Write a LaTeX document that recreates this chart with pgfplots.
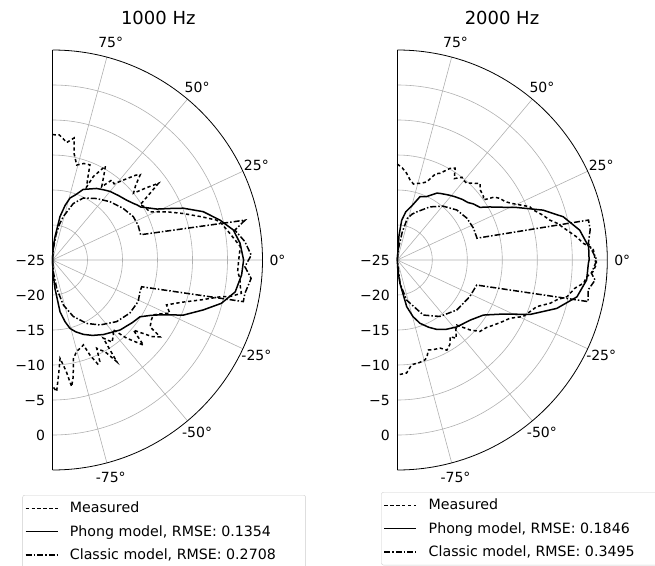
\documentclass[border=0pt]{standalone}
\usepackage{fontspec}
\setmainfont{DejaVu Sans}
\usepackage{pgfplots}
\pgfplotsset{compat=1.18}
\usepgfplotslibrary{polar}
\newcommand{\anglabels}{%
  \node[font=\fontsize{14}{16}\selectfont, inner sep=0pt] at (axis cs:75,7.14) {75°};
  \node[font=\fontsize{14}{16}\selectfont, inner sep=0pt] at (axis cs:50,7.14) {50°};
  \node[font=\fontsize{14}{16}\selectfont, inner sep=0pt] at (axis cs:25,7.14) {25°};
  \node[font=\fontsize{14}{16}\selectfont, inner sep=0pt] at (axis cs:0,7.14) {0°};
  \node[font=\fontsize{14}{16}\selectfont, inner sep=0pt] at (axis cs:-25,7.14) {-25°};
  \node[font=\fontsize{14}{16}\selectfont, inner sep=0pt] at (axis cs:-50,7.14) {-50°};
  \node[font=\fontsize{14}{16}\selectfont, inner sep=0pt] at (axis cs:-75,7.14) {-75°};
}
\pgfplotsset{
  myax/.style={
    scale only axis, width=420pt, height=420pt, clip=false,
    xmin=-90, xmax=90, ymin=-25, ymax=5,
    xtick={-75,-50,-25,0,25,50,75},
    xticklabels={,,,,,,},
    xticklabel style={text opacity=0},
    ytick={-25,-20,-15,-10,-5,0},
    yticklabels={−25,−20,−15,−10,−5,0},
    grid=major,
    major grid style={draw=black!31, line width=0.6pt},
    major tick length=0pt,
    axis line style={black, line width=0.8pt},
    tick label style={font=\fontsize{14}{16}\selectfont},
    yticklabel style={anchor=east, xshift=-4pt},
    title style={font=\fontsize{18}{21}\selectfont, anchor=base},
    legend cell align=left,
    legend style={anchor=north west, font=\fontsize{14.2}{16}\selectfont,
      draw=black!20, rounded corners=2pt, inner xsep=2.2pt, inner ysep=5pt,
      column sep=9pt, row sep=7pt, nodes={inner xsep=2.5pt}},
  },
  meas/.style={black, mark=none, line width=1.5pt, dash pattern=on 3.3pt off 2.6pt},
  phong/.style={black, mark=none, line width=1.5pt},
  classic/.style={black, mark=none, line width=1.5pt, dash pattern=on 6pt off 2pt on 1.5pt off 2pt},
}
\begin{document}
\begin{tikzpicture}
\useasboundingbox (0pt,0pt) rectangle (655pt,565pt);
% offsets relative to each axis origin
\coordinate (T1) at (105.8pt,221.2pt);
\coordinate (T2) at (104.7pt,221.2pt);
\coordinate (L1) at (-30pt,-235pt);
\coordinate (L2) at (-16pt,-232pt);
\begin{polaraxis}[myax, at={(52.5pt,305pt)}, anchor=origin,
  y coord trafo/.code={\pgfmathparse{#1+25}},
  y coord inv trafo/.code={\pgfmathparse{#1-25}},
  title={1000 Hz}, title style={at={(T1)}},
  legend style={at={(L1)}},
  legend image code/.code={\draw[#1] (0pt,0pt) -- (32pt,0pt);}]
\addplot[meas] coordinates {
(90,-7.1) (86.9,-7.1) (85,-7.6) (83.1,-8.1) (80,-7.3) (78.5,-9.5) (75.7,-11) (72,-10.5)
(68.5,-10.4) (67,-12) (65,-13.5) (63.9,-11.7) (60.6,-9.6) (58.5,-11) (56.1,-12.4) (53.5,-10.8)
(51,-11) (48,-9.5) (45.5,-8) (44.2,-7.5) (42,-9) (39.5,-10) (37.5,-8) (35.9,-6.3) (34,-8.5)
(32.2,-10.2) (30,-9.8) (26.4,-9.5) (22.9,-7.3) (19.6,-5.2) (16.4,-3) (13.7,-0.9) (12.2,-0.3)
(8.6,0.6) (4.1,1.9) (0,1.6) (-3.6,1.5) (-5.6,1.9) (-8.1,2.1) (-10,2.4) (-11.5,1) (-12.4,-0.5)
(-15,-3) (-18,-5.5) (-21.5,-7.5) (-24.4,-6.6) (-27,-8) (-28.6,-8.6) (-31,-8.5) (-34.4,-8.1)
(-35.5,-6.1) (-37.5,-7) (-40.9,-9.7) (-43.1,-7.2) (-46.5,-9.6) (-49,-11.8) (-51,-11.2)
(-54,-10.5) (-57,-11.7) (-57.7,-7.8) (-60.2,-9.9) (-62.2,-10.5) (-63.4,-10.9) (-65,-9)
(-66.5,-8.8) (-68.5,-10.4) (-70,-12.1) (-71.4,-11.9) (-75.2,-11.5) (-78,-10.6) (-80,-8)
(-81.4,-6.7) (-83,-9) (-85.6,-10.9) (-87,-8.5) (-88.2,-6.2) (-90,-7)
};
\addlegendentry{\makebox[231pt][l]{Measured}}
\addplot[phong] coordinates {
(90,-25) (87,-23.2) (83.9,-21.7) (80.2,-18.7) (77,-17) (74.2,-15.8) (70,-15.0) (66.5,-14.0)
(62,-13.5) (58.4,-13.0) (54,-12.6) (49.9,-12.2) (44,-11.8) (39,-11.4) (35,-10.9) (33.2,-10.6)
(31,-10.3) (29,-9.6) (26,-8.4) (23.7,-6.7) (21.6,-4.9) (17.8,-2.4) (13.4,-0.4) (9.4,1.2)
(5.1,1.9) (0,2.3) (-4.5,2.1) (-9.9,1.5) (-14.4,-0.1) (-18.3,-2.3) (-22.8,-4.7) (-25.1,-6.5)
(-27.5,-8) (-29.7,-9) (-33,-10.1) (-38,-10.5) (-46,-11.1) (-55.6,-12.1) (-62,-12.8)
(-67.5,-13.5) (-72,-14.2) (-75.6,-14.9) (-78.5,-16) (-81.7,-17.5) (-85,-20.9) (-87.5,-23) (-90,-25)
};
\addlegendentry{\makebox[231pt][l]{Phong model, RMSE: 0.1354}}
\addplot[classic] coordinates {
(90,-25) (86,-23.5) (82,-21.3) (79,-19.8) (76,-18.6) (69.8,-16.4) (63.5,-15.1) (54.4,-14.2)
(45.4,-13.3) (36.1,-12.5) (28.2,-11.9) (22.2,-11.8) (16,-11.9) (11.7,3.1) (9.3,1.4) (5.5,2.6)
(1.4,3.4) (-2,2.5) (-5.3,3.5) (-9.8,2.9) (-12.3,2.9) (-16.7,-11.7) (-19.9,-11.7) (-25.9,-11.4)
(-34.5,-11.6) (-43.9,-12.3) (-53.8,-13.5) (-61.6,-14.7) (-69.8,-16.4) (-76.5,-18.4)
(-81.6,-20.9) (-86,-23.3) (-90,-25)
};
\addlegendentry{\makebox[231pt][l]{Classic model, RMSE: 0.2708}}
\anglabels
\end{polaraxis}
\begin{polaraxis}[myax, at={(397.3pt,305pt)}, anchor=origin,
  y coord trafo/.code={\pgfmathparse{#1+25}},
  y coord inv trafo/.code={\pgfmathparse{#1-25}},
  title={2000 Hz}, title style={at={(T2)}},
  legend style={at={(L2)}},
  legend image code/.code={\draw[#1] (0pt,0pt) -- (32pt,0pt);}]
\addplot[meas] coordinates {
(90,-11.3) (87,-11.8) (84,-12.5) (81,-13.4) (78,-13.9) (75.8,-13.7) (73.5,-13.6) (71,-13.3)
(69.4,-13.1) (66,-11.5) (63.8,-11.2) (60.1,-9.9) (57.8,-9.5) (55,-10.8) (52,-10) (50.5,-10.2)
(47.9,-10.2) (45,-9.5) (42.8,-8.9) (40,-9.5) (36.4,-9.7) (34.9,-10) (33,-8.5) (31,-7.9)
(28.5,-7.5) (26.4,-6.8) (24,-5.7) (21.9,-4.6) (20.2,-4.3) (17,-3.2) (14.7,-2.5) (13,-1.6)
(10,-0.4) (7.4,0.8) (5.1,1.7) (3.4,3) (1.4,3.2) (0,3.2) (-1,3.5) (-3.4,3) (-5,2.2) (-7.1,1.8)
(-9,0.7) (-12.2,-0.2) (-14,-1.5) (-15.8,-2.3) (-18.5,-4) (-21,-4.6) (-24.2,-5.3) (-27.4,-6.9)
(-30,-7.5) (-34.1,-8.4) (-37,-9) (-40.9,-9.4) (-43.9,-10.6) (-47.6,-12.4) (-50,-12) (-53,-11)
(-55.5,-11.7) (-58,-10.8) (-61.2,-10.3) (-64,-11) (-68,-11.2) (-71,-11.4) (-73,-10.5)
(-74.5,-10.2) (-78,-10) (-82.2,-9.9) (-85.3,-8.8) (-89.5,-8.6) (-90,-8.6)
};
\addlegendentry{\makebox[231pt][l]{Measured}}
\addplot[phong] coordinates {
(90,-25) (86,-21.5) (83.7,-19.3) (80,-18) (75,-17) (70.3,-15.4) (65.1,-15.0) (59.4,-13.9)
(57.4,-13.7) (52,-13.2) (48,-12.8) (43,-12.3) (39.2,-12.0) (36.4,-11.5) (32.5,-11) (29.9,-9.8)
(27.2,-8.5) (23.8,-6.4) (18.9,-3.0) (14.6,-0.5) (9.3,1.4) (4,2.4) (0,2.4) (-1,2.3) (-6,2.2)
(-11.6,1.2) (-16.9,-1.2) (-22.3,-4.5) (-27,-8) (-32.6,-10.4) (-39.5,-11.5) (-48.3,-12.2)
(-55,-12.9) (-60.4,-13.6) (-65,-14.4) (-70.3,-15.4) (-74.5,-16.6) (-78.6,-18.2) (-83.4,-21.6)
(-87,-23.5) (-90,-25)
};
\addlegendentry{\makebox[231pt][l]{Phong model, RMSE: 0.1846}}
\addplot[classic] coordinates {
(90,-25) (85,-23.5) (80,-21) (76.5,-18.9) (72,-18.1) (68.1,-17.6) (58.5,-16.1) (49.6,-14.9)
(40.1,-13.9) (31,-13.4) (22.6,-13.2) (15.3,-13.2) (11.8,2.9) (9,2.9) (5,2.4) (0,3.5) (-3.9,2.8)
(-5.8,3.4) (-8.9,2.6) (-12.3,2.9) (-17.5,-13.1) (-26.8,-13.4) (-40.1,-13.9) (-53,-14.9)
(-64.7,-16.3) (-76.8,-19.1) (-83.4,-21.6) (-90,-25)
};
\addlegendentry{\makebox[231pt][l]{Classic model, RMSE: 0.3495}}
\anglabels
\end{polaraxis}
\end{tikzpicture}
\end{document}
